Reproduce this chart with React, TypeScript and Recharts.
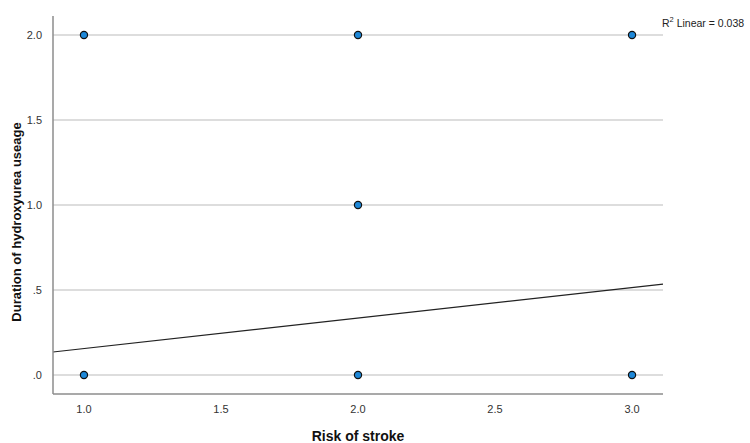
import {
  ScatterChart,
  Scatter,
  XAxis,
  YAxis,
  ReferenceLine,
  Label,
} from "recharts";

// observed cases (risk category vs. duration of hydroxyurea use)
const riskOfStroke = [1, 1, 2, 2, 2, 3, 3];
const durationOfUse = [0, 2, 0, 1, 2, 0, 2];

// linear fit line, evaluated at both ends of the x range
const fitX = [0.887, 3.113];
const fitY = [0.135, 0.535];

const xTicks = [1, 1.5, 2, 2.5, 3];
const yTicks = [0, 0.5, 1, 1.5, 2];
const yTickLabels = [".0", ".5", "1.0", "1.5", "2.0"];

const rSquaredText = "0.038";

const FONT = "'Liberation Sans', Arial, sans-serif";
const TICK = { fontSize: 11, fill: "#333", fontFamily: FONT };

const points = riskOfStroke.map((x, i) => ({ x, y: durationOfUse[i] }));

const Dot = (props: any) => (
  <circle cx={props.cx} cy={props.cy} r={3.6} fill="#1e88d8" stroke="#111" strokeWidth={1.2} />
);

const XTitle = ({ viewBox }: any) => (
  <text
    x={viewBox.x + viewBox.width / 2}
    y={viewBox.y + 47}
    textAnchor="middle"
    fontSize={14}
    fontWeight="bold"
    fill="#111"
    fontFamily={FONT}
  >
    Risk of stroke
  </text>
);

const YTitle = ({ viewBox }: any) => {
  const cx = viewBox.x + 21;
  const cy = viewBox.y + viewBox.height / 2 + 17;
  return (
    <text
      x={cx}
      y={cy}
      transform={`rotate(-90, ${cx}, ${cy})`}
      textAnchor="middle"
      fontSize={13}
      fontWeight="bold"
      fill="#111"
      fontFamily={FONT}
    >
      Duration of hydroxyurea useage
    </text>
  );
};

export default function App() {
  return (
    <div style={{ position: "absolute", left: 0, top: 0, width: 750, height: 443, background: "#fff" }}>
      <ScatterChart width={750} height={443} margin={{ top: 16, right: 87, left: 0, bottom: 0 }}>
        <XAxis
          type="number"
          dataKey="x"
          domain={[0.887, 3.113]}
          ticks={xTicks}
          tickFormatter={(v: number) => v.toFixed(1)}
          tick={TICK}
          tickLine={false}
          tickMargin={5}
          axisLine={{ stroke: "#8c8c8c", strokeWidth: 1.5 }}
          height={49}
          allowDataOverflow
        >
          <Label content={XTitle} />
        </XAxis>
        <YAxis
          type="number"
          dataKey="y"
          domain={[-0.112, 2.112]}
          ticks={yTicks}
          tickFormatter={(v: number) => yTickLabels[yTicks.indexOf(v)]}
          tick={TICK}
          tickLine={false}
          tickMargin={5}
          axisLine={{ stroke: "#8c8c8c", strokeWidth: 1.5 }}
          width={53}
          allowDataOverflow
        >
          <Label content={YTitle} />
        </YAxis>
        {yTicks.map((t) => (
          <ReferenceLine key={t} y={t} stroke="#d2d2d2" strokeWidth={1.5} />
        ))}
        <ReferenceLine
          segment={[
            { x: fitX[0], y: fitY[0] },
            { x: fitX[1], y: fitY[1] },
          ]}
          stroke="#222"
          strokeWidth={1.2}
          ifOverflow="visible"
        />
        <Scatter data={points} shape={Dot} isAnimationActive={false} />
      </ScatterChart>
      <div
        style={{
          position: "absolute",
          left: 662,
          top: 15,
          fontFamily: FONT,
          fontSize: 10.5,
          color: "#222",
          whiteSpace: "nowrap",
        }}
      >
        R<sup style={{ fontSize: 7.5 }}>2</sup> Linear = {rSquaredText}
      </div>
    </div>
  );
}
